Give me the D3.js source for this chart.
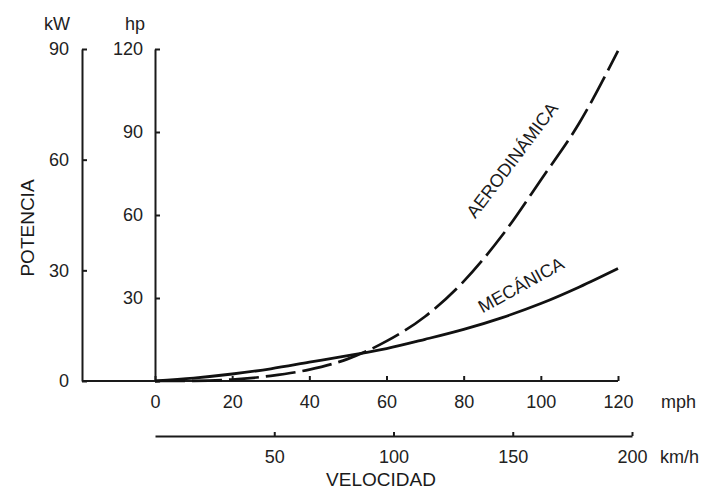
<!DOCTYPE html>
<html>
<head>
<meta charset="utf-8">
<script src="https://cdn.jsdelivr.net/npm/d3@7"></script>
<style>
  html, body { margin: 0; padding: 0; background: #fff; }
  svg { display: block; font-family: "Liberation Sans", Arial, sans-serif; }
  .axis text { font-size: 18px; fill: #222; }
  .axis path, .axis line { stroke: #1a1a1a; stroke-width: 2; }
</style>
</head>
<body>
<svg id="chart" width="707" height="491"></svg>
<script>
// Speed in mph and the power each resistance absorbs, in kW
const speedMph = [0, 10, 20, 30, 40, 50, 60, 70, 80, 90, 100, 110, 120];
const mechanicalKw = [0, 0.8, 1.9, 3.3, 5.1, 6.9, 8.8, 11.3, 14.0, 17.2, 21.0, 25.5, 30.5];
const aerodynamicKw = [0, 0.05, 0.4, 1.4, 3.1, 6.0, 10.8, 17.5, 27.0, 39.5, 54.5, 70.0, 89.5];

// Tick values for the four scales
const kwTicks = [0, 30, 60, 90];
const hpTicks = [0, 30, 60, 90, 120];
const mphTicks = [0, 20, 40, 60, 80, 100, 120];
const kmhTicks = [50, 100, 150, 200];

const svg = d3.select("#chart");

// Layout
const kwAxisX = 82, hpAxisX = 155;
const yBottom = 381, yTop = 49;
const mphAxisY = 381, kmhAxisY = 436;

const y = d3.scaleLinear().domain([0, 90]).range([yBottom, yTop]);
const yHp = d3.scaleLinear().domain([0, 120]).range([yBottom, yTop]);
const x = d3.scaleLinear().domain([0, 120]).range([hpAxisX, 618]);
const xKmh = d3.scaleLinear().domain([0, 200]).range([hpAxisX, 632]);

// kW axis (outer)
svg.append("g").attr("class", "axis")
  .attr("transform", `translate(${kwAxisX},0)`)
  .call(d3.axisLeft(y).tickValues(kwTicks).tickSizeInner(-5).tickSizeOuter(0).tickPadding(13));

// hp axis (inner); its zero is shared with the speed axis label
svg.append("g").attr("class", "axis")
  .attr("transform", `translate(${hpAxisX},0)`)
  .call(d3.axisLeft(yHp).tickValues(hpTicks).tickSizeInner(-5).tickSizeOuter(0).tickPadding(12)
    .tickFormat(d => d === 0 ? "" : d));

// mph axis
const mphG = svg.append("g").attr("class", "axis")
  .attr("transform", `translate(0,${mphAxisY})`)
  .call(d3.axisBottom(x).tickValues(mphTicks).tickSizeInner(-5).tickSizeOuter(0).tickPadding(14));
mphG.select(".domain").remove();
mphG.append("line")
  .attr("x1", kwAxisX).attr("x2", x(120))
  .attr("y1", 0).attr("y2", 0);

// km/h axis
const kmhG = svg.append("g").attr("class", "axis")
  .attr("transform", `translate(0,${kmhAxisY})`)
  .call(d3.axisBottom(xKmh).tickValues(kmhTicks).tickSizeInner(-4).tickSizeOuter(0).tickPadding(14));
kmhG.selectAll(".domain").attr("stroke-width", 1.8);

// Unit labels
svg.append("text").attr("x", kwAxisX - 12).attr("y", 30)
  .attr("text-anchor", "end").attr("font-size", 18).attr("fill", "#222").text("kW");
svg.append("text").attr("x", hpAxisX - 10).attr("y", 30)
  .attr("text-anchor", "end").attr("font-size", 18).attr("fill", "#222").text("hp");
svg.append("text").attr("x", 661).attr("y", 408)
  .attr("font-size", 18).attr("fill", "#222").text("mph");
svg.append("text").attr("x", 660).attr("y", 463)
  .attr("font-size", 18).attr("fill", "#222").text("km/h");

// Axis titles
svg.append("text")
  .attr("transform", "translate(34,228) rotate(-90)")
  .attr("text-anchor", "middle").attr("font-size", 19).attr("fill", "#1a1a1a")
  .text("POTENCIA");
svg.append("text").attr("x", 381).attr("y", 486)
  .attr("text-anchor", "middle").attr("font-size", 19).attr("fill", "#1a1a1a")
  .text("VELOCIDAD");

// Curves
const line = d3.line()
  .x(d => x(d[0]))
  .y(d => y(d[1]))
  .curve(d3.curveMonotoneX);

svg.append("path")
  .datum(speedMph.map((v, i) => [v, mechanicalKw[i]]))
  .attr("d", line)
  .attr("fill", "none").attr("stroke", "#111").attr("stroke-width", 2.8);

svg.append("path")
  .datum(speedMph.map((v, i) => [v, aerodynamicKw[i]]))
  .attr("d", line)
  .attr("fill", "none").attr("stroke", "#111").attr("stroke-width", 2.7)
  .attr("stroke-dasharray", "30 7");

// Curve labels
svg.append("text")
  .attr("transform", "translate(512,160) rotate(-53)")
  .attr("text-anchor", "middle").attr("dy", "0.35em")
  .attr("font-size", 18).attr("fill", "#1a1a1a")
  .text("AERODINÁMICA");
svg.append("text")
  .attr("transform", "translate(521,285) rotate(-29)")
  .attr("text-anchor", "middle").attr("dy", "0.35em")
  .attr("font-size", 18).attr("fill", "#1a1a1a")
  .text("MECÁNICA");
</script>
</body>
</html>
